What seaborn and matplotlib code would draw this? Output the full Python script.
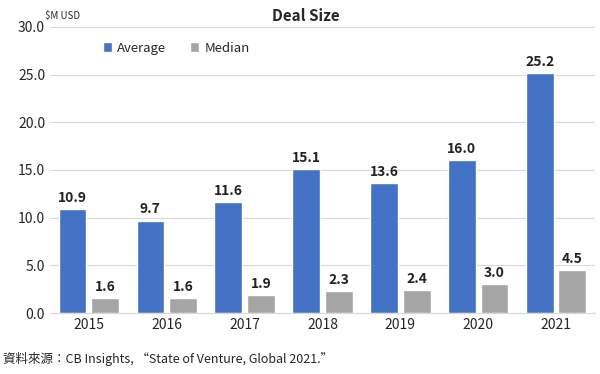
import pandas as pd
from matplotlib import pyplot as plt
import seaborn as sns

sns.set_style('white')
plt.rcParams['font.family'] = ['Noto Sans CJK TC', 'DejaVu Sans']

years = ['2015', '2016', '2017', '2018', '2019', '2020', '2021']
average = [10.9, 9.7, 11.6, 15.1, 13.6, 16.0, 25.2]
median = [1.6, 1.6, 1.9, 2.3, 2.4, 3.0, 4.5]
series = ['Average', 'Median']
colors = ['#4472C4', '#A5A5A5']

df = pd.DataFrame({
    'year': years * 2,
    'value': average + median,
    'series': [series[0]] * len(years) + [series[1]] * len(years),
})

f = plt.figure(figsize=(6, 3.74), dpi=100)
ax = f.add_axes([0.0833, 0.163, 0.9083, 0.765])
sns.barplot(data=df, x='year', y='value', hue='series', palette=colors,
            width=0.84, gap=0.15, ax=ax, saturation=1)

for c in ax.containers:
    ax.bar_label(c, fmt='%.1f', padding=3, fontsize=10, fontweight='bold', color='#222222')

ax.set_ylim(0, 30)
ax.set_yticks(range(0, 31, 5))
ax.set_yticklabels(['%.1f' % v for v in range(0, 31, 5)], fontsize=10)
ax.tick_params(axis='x', labelsize=10, length=0)
ax.tick_params(axis='y', length=0)
ax.grid(axis='y', color='#D9D9D9', linewidth=0.8)
ax.set_axisbelow(True)
for s in ['top', 'right', 'left']:
    ax.spines[s].set_visible(False)
ax.spines['bottom'].set_color('#D9D9D9')
ax.set_xlabel('')
ax.set_ylabel('')

ax.legend(loc='upper left', bbox_to_anchor=(0.075, 0.99), ncol=2, frameon=False,
          fontsize=9.5, handlelength=0.7, handleheight=0.7, columnspacing=1.8, handletextpad=0.4)

f.text(0.51, 0.958, 'Deal Size', ha='center', va='center', fontsize=11, fontweight='bold')
f.text(0.075, 0.958, '$M USD', ha='left', va='center', fontsize=7)
f.text(0.005, 0.04, '資料來源：CB Insights, “State of Venture, Global 2021.”',
       ha='left', va='center', fontsize=9)

plt.savefig('out.png', dpi=100)
